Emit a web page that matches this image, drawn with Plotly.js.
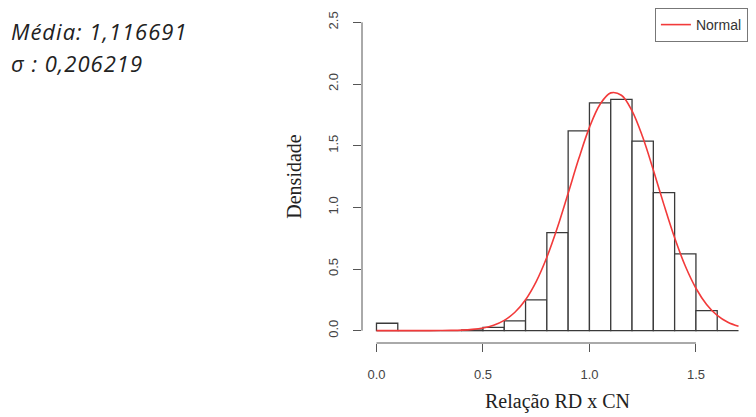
<!DOCTYPE html>
<html>
<head>
<meta charset="utf-8">
<script src="https://cdn.plot.ly/plotly-3.0.1.min.js"></script>
<style>html,body{margin:0;padding:0;background:#fff;}#chart{width:756px;height:417px;}
.annotation-text{letter-spacing:1px;}</style>
</head>
<body>
<div id="chart"></div>
<script>
// Histogram bins (left edges) and densities
const binStart = [0.0, 0.1, 0.2, 0.3, 0.4, 0.5, 0.6, 0.7, 0.8, 0.9, 1.0, 1.1, 1.2, 1.3, 1.4, 1.5, 1.6];
const density  = [0.06, 0, 0, 0, 0.005, 0.027, 0.08, 0.25, 0.795, 1.62, 1.847, 1.875, 1.537, 1.12, 0.623, 0.162, 0];
const binWidth = 0.1;

// Normal curve
const curveX = [0.0, 0.05, 0.1, 0.15, 0.2, 0.25, 0.3, 0.35, 0.4, 0.45, 0.5, 0.55, 0.6, 0.65, 0.7, 0.75, 0.8, 0.85, 0.9, 0.95, 1.0, 1.05, 1.1, 1.15, 1.2, 1.25, 1.3, 1.35, 1.4, 1.45, 1.5, 1.55, 1.6, 1.65, 1.7];
const curveY = [0, 0, 0, 0, 0.0001, 0.0003, 0.0008, 0.002, 0.0046, 0.0104, 0.0221, 0.0444, 0.0838, 0.149, 0.251, 0.398, 0.595, 0.838, 1.114, 1.395, 1.648, 1.836, 1.928, 1.909, 1.783, 1.570, 1.303, 1.020, 0.753, 0.524, 0.344, 0.213, 0.124, 0.068, 0.035];

const xTicks = [0, 0.5, 1.0, 1.5];
const xTickText = ['0.0', '0.5', '1.0', '1.5'];
const yTicks = [0, 0.5, 1.0, 1.5, 2.0, 2.5];
const yTickText = ['0.0', '0.5', '1.0', '1.5', '2.0', '2.5'];

const statsLines = ['Média: 1,116691', 'σ : 0,206219'];
const xTitle = 'Relação RD x CN';
const yTitle = 'Densidade';
const legendName = 'Normal';

const bars = {
  type: 'bar',
  x: binStart.map(s => s + binWidth / 2),
  y: density,
  width: binWidth,
  marker: {color: '#ffffff', line: {color: '#3a3a3a', width: 1.3}},
  showlegend: false,
  hoverinfo: 'skip'
};
const curve = {
  type: 'scatter',
  mode: 'lines',
  x: curveX,
  y: curveY,
  line: {color: '#f23a3a', width: 1.6, shape: 'spline'},
  name: legendName
};

const tickFont = {family: 'Liberation Sans, Arial, sans-serif', size: 13, color: '#444'};
const titleFont = {family: 'Liberation Serif, Times New Roman, serif', size: 20, color: '#222'};

const layout = {
  width: 756, height: 417,
  margin: {l: 362, r: 3, t: 10, b: 74, pad: 0},
  paper_bgcolor: '#fff', plot_bgcolor: '#fff',
  font: tickFont,
  bargap: 0,
  xaxis: {
    range: [-0.068, 1.768], showgrid: false, zeroline: false, showline: false,
    tickmode: 'array', tickvals: xTicks, ticktext: xTickText,
    ticks: 'outside', ticklen: 8, tickwidth: 1, tickcolor: '#555',
    ticklabelstandoff: 11, tickfont: tickFont,
    title: {text: xTitle, font: titleFont, standoff: 13}
  },
  yaxis: {
    range: [-0.1, 2.6], showgrid: false, zeroline: false, showline: false,
    tickmode: 'array', tickvals: yTicks, ticktext: yTickText,
    ticks: 'outside', ticklen: 8, tickwidth: 1, tickcolor: '#555',
    tickangle: -90, ticklabelstandoff: 10, tickfont: tickFont,
    title: {text: yTitle, font: titleFont, standoff: 18}
  },
  shapes: [
    {type: 'line', xref: 'x', yref: 'paper', x0: xTicks[0], x1: xTicks[xTicks.length - 1], y0: 0, y1: 0, line: {color: '#555', width: 1}},
    {type: 'line', xref: 'paper', yref: 'y', x0: 0, x1: 0, y0: yTicks[0], y1: yTicks[yTicks.length - 1], line: {color: '#555', width: 1}}
  ],
  legend: {
    x: 0.987, xanchor: 'right', y: 1.006, yanchor: 'top',
    bordercolor: '#777', borderwidth: 1, bgcolor: '#fff',
    font: {family: 'Liberation Sans, Arial, sans-serif', size: 14, color: '#333'}
  },
  annotations: statsLines.map((t, i) => ({
    text: t, xref: 'paper', yref: 'paper',
    x: -0.902, xanchor: 'left',
    y: 0.937 - i * 0.096, yanchor: 'middle',
    showarrow: false,
    font: {family: 'Open Sans, sans-serif', size: 22, color: '#222', style: 'italic'}
  }))
};

Plotly.newPlot('chart', [bars, curve], layout, {displayModeBar: false, staticPlot: true});
</script>
</body>
</html>
